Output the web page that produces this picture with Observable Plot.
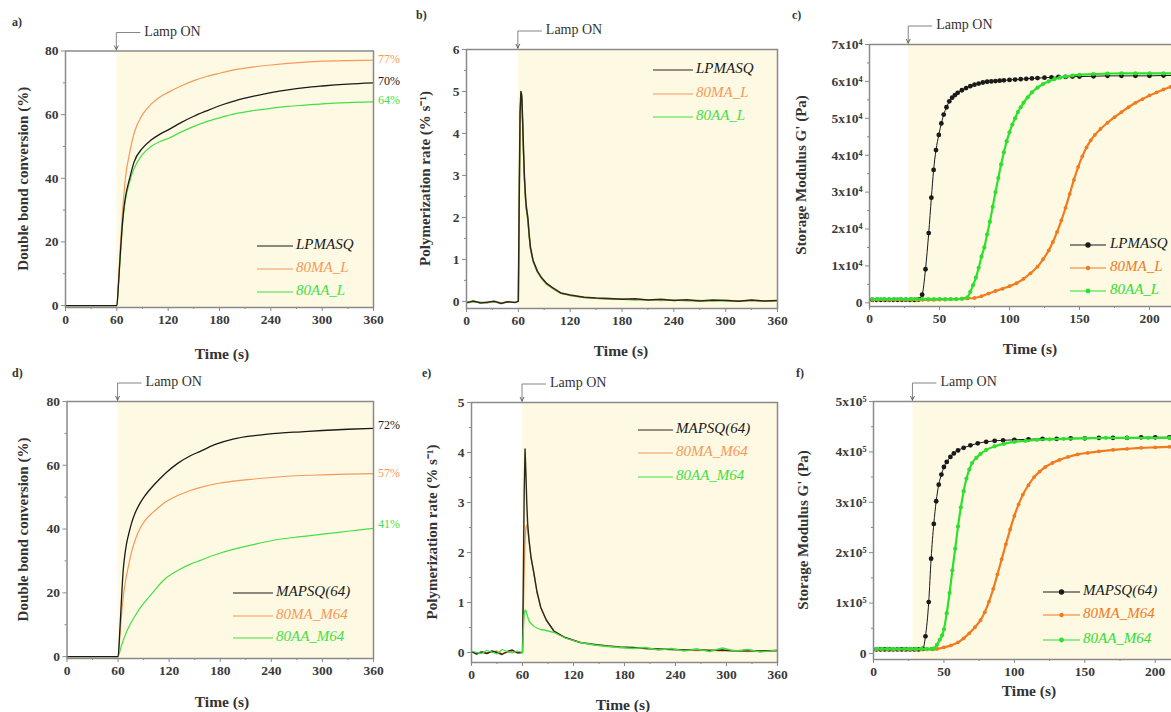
<!DOCTYPE html>
<html><head><meta charset="utf-8">
<script src="https://cdn.jsdelivr.net/npm/d3@7"></script>
<script src="https://cdn.jsdelivr.net/npm/@observablehq/plot@0.6"></script>
<style>
html,body{margin:0;padding:0;background:#fff;overflow:hidden;}
#fig{position:relative;width:1171px;height:712px;overflow:hidden;}
#fig > div{position:absolute;}
</style></head><body><div id="fig"></div>
<script>
// ---------------- DATA ----------------
// a) Double bond conversion (%) – LPMASQ series
const tA = [0, 30, 60, 62, 64, 66, 68, 70, 75, 80, 90, 100, 110, 120, 135, 150, 165, 180, 200, 220, 240, 260, 280, 300, 330, 360];
const a_LPMASQ = [0, 0, 0, 7, 16, 24, 30, 34, 40, 45, 49.5, 52, 53.8, 55.2, 57.5, 59.5, 61.2, 62.8, 64.5, 65.8, 66.9, 67.8, 68.5, 69, 69.6, 70];
const a_80MA_L = [0, 0, 0, 8, 18, 27, 34, 40, 48, 54, 60, 63.3, 65.5, 67, 69, 70.7, 72, 73, 74.2, 75, 75.6, 76.1, 76.5, 76.8, 77, 77.1];
const a_80AA_L = [0, 0, 0, 7, 15, 23, 29, 33, 39, 43, 47.5, 50, 51.5, 52.5, 54.5, 56.3, 57.8, 59, 60.4, 61.3, 62, 62.6, 63, 63.4, 63.8, 64];
const a_final = [77, 70, 64]; // 80MA_L, LPMASQ, 80AA_L

// b) Polymerization rate (% s-1)
const tB = [0, 8, 16, 24, 32, 40, 48, 56, 60, 61, 62, 63, 64, 65, 66, 67, 68, 69, 71, 72.5, 74, 77, 82, 87, 93, 100, 109, 120, 136, 150, 165, 180, 195, 210, 225, 240, 255, 270, 285, 300, 315, 330, 345, 360];
const b_LPMASQ = [-0.03, 0.01, -0.04, -0.02, 0.0, -0.05, -0.01, -0.03, 0, 2.4, 4.5, 5.0, 4.9, 4.3, 3.6, 3.0, 2.6, 2.3, 2.0, 1.6, 1.29, 0.98, 0.72, 0.56, 0.42, 0.32, 0.2, 0.15, 0.1, 0.08, 0.07, 0.05, 0.06, 0.03, 0.05, 0.02, 0.04, 0.01, 0.03, 0.02, 0.0, 0.03, 0.01, 0.02];
const b_80MA_L = [-0.02, 0.0, -0.03, -0.04, 0.01, -0.03, -0.02, -0.01, 0, 2.2, 4.4, 4.95, 4.85, 4.25, 3.55, 2.95, 2.55, 2.25, 1.95, 1.58, 1.27, 0.97, 0.71, 0.55, 0.41, 0.31, 0.2, 0.14, 0.1, 0.07, 0.06, 0.06, 0.04, 0.04, 0.03, 0.03, 0.02, 0.02, 0.01, 0.03, 0.01, 0.02, 0.0, 0.01];
const b_80AA_L = [-0.04, -0.01, -0.02, -0.03, -0.01, -0.04, 0.0, -0.02, 0, 2.3, 4.45, 4.9, 4.8, 4.2, 3.5, 2.9, 2.5, 2.2, 1.9, 1.55, 1.25, 0.95, 0.7, 0.54, 0.4, 0.3, 0.19, 0.14, 0.09, 0.07, 0.05, 0.05, 0.03, 0.04, 0.02, 0.03, 0.01, 0.02, 0.0, 0.02, 0.01, 0.01, 0.0, 0.01];

// c) Storage modulus G' (Pa) – LPMASQ series
const c_t_LPMASQ = [2, 5, 8, 11, 14, 17, 20, 23, 26, 29, 32, 35, 37.6, 40, 42.3, 44.2, 45.8, 47.5, 49.5, 51.3, 53, 55, 57, 59, 61, 63, 66, 69, 72, 75, 78, 81, 84, 87, 90, 93, 96, 100, 104, 108, 112, 116, 120, 125, 130, 135, 140, 145, 150, 160, 170, 180, 190, 200, 210, 220, 230];
const c_v_LPMASQ = [800, 800, 800, 800, 800, 800, 800, 800, 800, 800, 800, 900, 2200, 9100, 18900, 28500, 36000, 41400, 45500, 48600, 51000, 53000, 54600, 55600, 56300, 56900, 57600, 58200, 58700, 59100, 59400, 59700, 59900, 60000, 60100, 60200, 60300, 60400, 60500, 60600, 60700, 60800, 60900, 61000, 61100, 61200, 61200, 61300, 61300, 61400, 61500, 61500, 61500, 61500, 61600, 61600, 61600];
const c_t_80MA_L = [2, 6, 10, 14, 18, 22, 26, 30, 34, 38, 42, 46, 50, 54, 58, 62, 66, 70, 75, 80, 85, 90, 95, 100, 105, 110, 115, 120, 124, 128, 131, 134, 137, 140, 143, 146, 149, 152, 155, 158, 161, 165, 170, 175, 180, 185, 190, 195, 200, 205, 210, 215, 220, 225, 230];
const c_v_80MA_L = [800, 800, 800, 800, 800, 800, 800, 800, 800, 800, 800, 800, 900, 900, 1000, 1000, 1100, 1200, 1300, 1800, 2500, 3200, 3800, 4500, 5300, 6500, 8000, 9800, 11800, 14200, 16500, 19200, 22300, 25700, 29500, 33300, 36800, 39700, 42100, 44000, 45500, 47100, 48800, 50300, 51700, 53000, 54200, 55200, 56200, 57000, 57800, 58500, 59000, 59500, 60000];
const c_t_80AA_L = [2, 6, 10, 14, 18, 22, 26, 30, 34, 38, 42, 46, 50, 54, 58, 62, 66, 70, 72, 74, 76, 78, 80, 82, 84, 86, 88, 90, 92, 94, 96, 98, 100, 102, 104, 106, 108, 110, 113, 116, 120, 124, 128, 132, 136, 140, 145, 150, 160, 170, 180, 190, 200, 210, 220, 230];
const c_v_80AA_L = [1000, 1000, 1000, 1000, 1000, 1000, 1000, 1000, 1000, 1000, 1000, 1000, 1000, 1000, 1000, 1000, 1100, 1500, 3000, 4800, 6800, 9500, 12500, 15000, 18500, 22000, 26000, 30000, 33800, 37500, 40800, 43800, 46200, 48300, 50000, 51700, 53000, 54200, 55700, 57000, 58300, 59300, 60000, 60600, 61000, 61300, 61600, 61800, 62000, 62100, 62200, 62200, 62200, 62200, 62200, 62200];

// d) Double bond conversion (%) – MAPSQ(64) series
const tD = [0, 30, 60, 62, 64, 66, 68, 70, 73, 76, 80, 86, 92, 100, 110, 117, 130, 145, 156, 175, 195, 220, 250, 275, 300, 330, 360];
const d_MAPSQ = [0, 0, 0, 8, 18, 27, 32, 35.5, 39, 42, 45, 48.2, 50.6, 53.2, 56, 57.8, 60.6, 63, 64.3, 66.6, 68.2, 69.3, 70.1, 70.5, 70.9, 71.3, 71.6];
const d_80MA_M64 = [0, 0, 0, 6, 13, 18.5, 22.5, 25.5, 29.5, 33, 36.5, 40.3, 42.8, 45, 47.3, 48.7, 50.5, 52.1, 53, 54.2, 55, 55.7, 56.4, 56.8, 57, 57.2, 57.4];
const d_80AA_M64 = [0, 0, 0, 1.5, 3.5, 5, 6.5, 7.8, 9.5, 11, 12.8, 15.3, 17.3, 19.8, 23, 24.8, 27, 29, 30.1, 32, 33.6, 35.2, 36.8, 37.6, 38.4, 39.3, 40.2];
const d_final = [72, 57, 41]; // MAPSQ(64), 80MA_M64, 80AA_M64

// e) Polymerization rate (% s-1) – MAPSQ(64) series
const tE = [0, 6, 12, 18, 24, 30, 36, 42, 48, 54, 60, 61, 62, 63, 64, 65, 66, 67.7, 70, 73.6, 77, 81.5, 88, 97, 110, 128, 145, 160, 175, 190, 205, 220, 235, 250, 265, 280, 295, 310, 325, 340, 360];
const e_MAPSQ = [0.02, -0.03, 0.01, -0.02, 0.03, 0, -0.04, 0.02, 0.05, -0.01, 0, 1.5, 3.2, 4.07, 3.6, 3.0, 2.6, 2.24, 1.9, 1.57, 1.22, 0.9, 0.65, 0.43, 0.3, 0.2, 0.16, 0.13, 0.11, 0.1, 0.08, 0.07, 0.06, 0.05, 0.06, 0.04, 0.05, 0.03, 0.04, 0.03, 0.04];
const e_80MA_M64 = [0.01, -0.02, 0.02, -0.01, 0.01, 0.03, -0.02, 0.0, 0.02, 0.01, 0, 0.8, 1.6, 2.2, 2.5, 2.55, 2.45, 2.24, 1.92, 1.55, 1.2, 0.9, 0.64, 0.42, 0.3, 0.2, 0.15, 0.13, 0.1, 0.09, 0.08, 0.06, 0.07, 0.05, 0.04, 0.05, 0.03, 0.04, 0.02, 0.03, 0.03];
const e_80AA_M64 = [0.03, 0.0, -0.02, 0.04, 0.01, -0.03, 0.06, 0.02, -0.01, 0.03, 0, 0.45, 0.75, 0.85, 0.84, 0.78, 0.72, 0.63, 0.58, 0.52, 0.49, 0.46, 0.44, 0.4, 0.29, 0.2, 0.15, 0.12, 0.1, 0.08, 0.1, 0.05, 0.08, 0.03, 0.07, 0.02, 0.09, 0.03, 0.06, 0.01, 0.05];

// f) Storage modulus G' (Pa) – MAPSQ(64) series
const f_t_MAPSQ = [2, 5, 8, 11, 14, 17, 20, 23, 26, 29, 32, 35, 36.9, 39.2, 40.9, 42.8, 44.5, 46.3, 48.2, 50, 52, 54.6, 57, 60, 64, 68.8, 74, 80, 86, 92, 100, 110, 120, 130, 140, 150, 160, 170, 180, 190, 200, 210, 220, 230];
const f_v_MAPSQ = [8000, 8000, 8000, 8000, 8000, 8000, 8000, 8000, 8000, 8000, 8000, 9000, 34000, 102000, 188000, 257000, 302000, 335000, 355000, 370000, 380000, 390000, 397000, 403000, 408000, 413000, 417000, 420000, 422000, 423000, 424000, 425000, 426000, 426000, 427000, 427000, 428000, 428000, 428000, 429000, 429000, 429000, 429000, 429000];
const f_t_80MA_M64 = [2, 6, 10, 14, 18, 22, 26, 30, 34, 38, 42, 45, 50, 55, 60, 64, 68, 72, 76, 79, 82, 85, 88, 91, 94, 97, 100, 103, 106, 110, 114, 118, 122, 127, 132, 138, 145, 152, 160, 170, 180, 190, 200, 210, 220, 230];
const f_v_80MA_M64 = [8000, 8000, 8000, 8000, 8000, 8000, 8000, 8000, 8000, 8000, 8000, 9000, 12000, 16000, 22000, 30000, 40000, 52000, 66000, 82000, 103000, 128000, 157000, 187000, 217000, 246000, 273000, 296000, 315000, 334000, 350000, 361000, 370000, 378000, 384000, 390000, 395000, 398000, 401000, 404000, 406000, 408000, 409000, 410000, 411000, 412000];
const f_t_80AA_M64 = [2, 6, 10, 14, 18, 22, 26, 30, 34, 38, 41, 43, 45, 47, 48.7, 50, 52, 54, 56, 58, 60, 62, 64, 66, 68, 70, 73, 76, 80, 86, 92.5, 100, 108, 116, 125, 135, 150, 165, 180, 195, 210, 230];
const f_v_80AA_M64 = [9000, 9000, 9000, 9000, 9000, 9000, 9000, 9000, 9000, 9000, 9000, 10000, 17000, 27000, 36000, 48000, 80000, 120000, 165000, 208000, 252000, 290000, 322000, 347000, 365000, 378000, 388000, 396000, 404000, 411000, 416000, 420000, 422000, 424000, 425000, 426000, 427000, 428000, 428000, 428000, 428000, 428000];

// labels
const namesTop = ["LPMASQ", "80MA_L", "80AA_L"];
const namesBottom = ["MAPSQ(64)", "80MA_M64", "80AA_M64"];
const ticks360 = [0, 60, 120, 180, 240, 300, 360];
const minor360 = [30, 90, 150, 210, 270, 330];
const ticks250 = [0, 50, 100, 150, 200];
const minor250 = [25, 75, 125, 175, 225];

// ---------------- STYLE ----------------
const FONT = "'Liberation Serif','Times New Roman',serif";
const BG = "#fdf9e2";
const AX = "#8a8a8a";
const BLACK = "#1a1a1a";
const ORANGE_L = "#f5995a", ORANGE_D = "#f07b1f";
const GREEN_L = "#45e045", GREEN_D = "#2ee02e";

const fig = document.getElementById("fig");
const sup4 = "\u2074", sup5 = "\u2075";

function ser(t, v) { return t.map((x, i) => ({t: x, v: v[i]})); }

function buildPanel(p) {
  const mL = p.fl - p.ox, mR = p.ox + p.W - p.fr, mT = p.ft - p.oy, mB = p.oy + p.H - p.fb;
  const marks = [
    Plot.rect([{x1: p.lamp, x2: p.xDomain[1], y1: p.yDomain[0], y2: p.yDomain[1]}], {x1: "x1", x2: "x2", y1: "y1", y2: "y2", fill: BG})
  ];
  for (const s of p.series) {
    const data = ser(s.t, s.v);
    marks.push(Plot.line(data, {x: "t", y: "v", stroke: s.color, strokeWidth: s.sw, curve: p.curve, clip: true}));
    if (s.r) marks.push(Plot.dot(data, {x: "t", y: "v", r: s.r, fill: s.color, stroke: "none", clip: true}));
  }
  marks.push(
    Plot.axisX({ticks: p.xMinor, tickSize: 2, tickFormat: () => "", stroke: AX, label: null}),
    Plot.axisX({ticks: p.xTicks, tickSize: 4, tickPadding: 3, fontSize: 13.5, fontWeight: "bold", fill: "#3a3a3a", stroke: AX, label: null}),
    Plot.axisY({ticks: p.yMinor, tickSize: 2, tickFormat: () => "", stroke: AX, label: null}),
    Plot.axisY({ticks: p.yTicks, tickSize: 4, tickPadding: 3, tickFormat: p.yFmt, fontSize: 13.5, fontWeight: "bold", fill: "#3a3a3a", stroke: AX, label: null}),
    Plot.frame({stroke: AX, strokeWidth: 1.5})
  );
  const plot = Plot.plot({
    width: p.W, height: p.H,
    marginLeft: mL, marginRight: mR, marginTop: mT, marginBottom: mB,
    x: {domain: p.xDomain}, y: {domain: p.yDomain},
    style: {background: "transparent", maxWidth: "none", overflow: "visible", fontFamily: FONT},
    marks
  });
  const xs = plot.scale("x"), ys = plot.scale("y");
  const svg = d3.select(plot);
  const g = svg.append("g").attr("font-family", FONT).attr("text-anchor", "start");
  const X = v => v - p.ox, Y = v => v - p.oy;
  // panel letter
  g.append("text").attr("x", X(p.letter[0])).attr("y", Y(p.letter[1])).attr("font-size", 12).attr("font-weight", "bold").attr("fill", "#333").attr("dominant-baseline", "middle").text(p.letter[2]);
  // Lamp ON annotation
  const xl = xs.apply(p.lamp), top = mT;
  g.append("path").attr("d", `M${xl},${top} L${xl},${top - 18} L${xl + 24},${top - 18}`).attr("fill", "none").attr("stroke", "#777").attr("stroke-width", 0.9);
  g.append("path").attr("d", `M${xl - 2},${top - 5} L${xl},${top - 1} L${xl + 2},${top - 5}`).attr("fill", "none").attr("stroke", "#555").attr("stroke-width", 0.9);
  g.append("text").attr("x", xl + 28).attr("y", top - 18).attr("dominant-baseline", "middle").attr("font-size", 14).attr("fill", "#333").text("Lamp ON");
  // axis titles
  g.append("text").attr("transform", `translate(${X(p.yTitleX)},${(mT + p.H - mB) / 2}) rotate(-90)`).attr("text-anchor", "middle").attr("dominant-baseline", "middle").attr("font-size", 15).attr("font-weight", "bold").attr("fill", "#333").text(p.yTitle);
  g.append("text").attr("x", X(p.xTitle[0])).attr("y", Y(p.xTitle[1])).attr("text-anchor", "middle").attr("dominant-baseline", "middle").attr("font-size", 15.5).attr("font-weight", "bold").attr("fill", "#333").text("Time (s)");
  // legend
  p.legend.rows.forEach((ry, i) => {
    const s = p.series[p.legend.order[i]];
    const lc = p.legend.labelColors[i];
    g.append("line").attr("x1", X(p.legend.x1)).attr("x2", X(p.legend.x2)).attr("y1", Y(ry)).attr("y2", Y(ry)).attr("stroke", s.color).attr("stroke-width", 1.2);
    if (s.r) g.append("circle").attr("cx", X((p.legend.x1 + p.legend.x2) / 2)).attr("cy", Y(ry)).attr("r", s.r + 0.3).attr("fill", s.color);
    g.append("text").attr("x", X(p.legend.tx)).attr("y", Y(ry)).attr("dominant-baseline", "middle").attr("font-size", 15).attr("font-style", "italic").attr("fill", lc).text(p.legend.names[i]);
  });
  // end labels
  if (p.ends) {
    p.ends.vals.forEach((v, i) => {
      g.append("text").attr("x", xs.apply(p.xDomain[1]) + 5).attr("y", ys.apply(v)).attr("dominant-baseline", "middle").attr("font-size", 12).attr("fill", p.ends.colors[i]).text(`${v}%`);
    });
  }
  const div = document.createElement("div");
  div.style.left = p.ox + "px"; div.style.top = p.oy + "px";
  div.appendChild(plot);
  fig.appendChild(div);
}

const fmtInt = d => String(d);
const fmtC = d => d === 0 ? "0" : `${d / 1e4}x10${sup4}`;
const fmtF = d => d === 0 ? "0" : `${d / 1e5}x10${sup5}`;

// a
buildPanel({
  ox: 0, oy: 0, W: 400, H: 365, fl: 65, fr: 373, ft: 50.5, fb: 307,
  xDomain: [0, 360], yDomain: [-0.6, 80], lamp: 60, curve: "monotone-x",
  xTicks: ticks360, xMinor: minor360, yTicks: [0, 20, 40, 60, 80], yMinor: [10, 30, 50, 70], yFmt: fmtInt,
  series: [
    {t: tA, v: a_80AA_L, color: GREEN_L, sw: 1.2},
    {t: tA, v: a_80MA_L, color: ORANGE_L, sw: 1.2},
    {t: tA, v: a_LPMASQ, color: BLACK, sw: 1.3}
  ],
  letter: [12, 23, "a)"], yTitleX: 25, yTitle: "Double bond conversion (%)", xTitle: [222, 355],
  legend: {rows: [246, 269, 292], x1: 257, x2: 293, tx: 296, order: [2, 1, 0], names: namesTop, labelColors: [BLACK, ORANGE_L, GREEN_L]},
  ends: {vals: a_final, colors: [ORANGE_L, BLACK, GREEN_L]}
});
// b
buildPanel({
  ox: 400, oy: 0, W: 385, H: 365, fl: 466, fr: 777, ft: 49, fb: 308,
  xDomain: [0, 360], yDomain: [-0.17, 6], lamp: 60, curve: "linear",
  xTicks: ticks360, xMinor: minor360, yTicks: [0, 1, 2, 3, 4, 5, 6], yMinor: [0.5, 1.5, 2.5, 3.5, 4.5, 5.5], yFmt: fmtInt,
  series: [
    {t: tB, v: b_80AA_L, color: GREEN_L, sw: 1.3},
    {t: tB, v: b_80MA_L, color: ORANGE_L, sw: 1.3},
    {t: tB, v: b_LPMASQ, color: "#2a2a1a", sw: 1.5}
  ],
  letter: [416, 16, "b)"], yTitleX: 427, yTitle: "Polymerization rate (% s\u207B\u00B9)", xTitle: [621, 352],
  legend: {rows: [70, 94, 117], x1: 653, x2: 693, tx: 696, order: [2, 1, 0], names: namesTop, labelColors: [BLACK, ORANGE_L, GREEN_L]}
});
// c
buildPanel({
  ox: 785, oy: 0, W: 420, H: 365, fl: 869, fr: 1191, ft: 44, fb: 306,
  xDomain: [0, 230], yDomain: [-1000, 70000], lamp: 28, curve: "monotone-x",
  xTicks: ticks250, xMinor: minor250, yTicks: [0, 10000, 20000, 30000, 40000, 50000, 60000, 70000], yMinor: [5000, 15000, 25000, 35000, 45000, 55000, 65000], yFmt: fmtC,
  series: [
    {t: c_t_LPMASQ, v: c_v_LPMASQ, color: BLACK, sw: 1, r: 2.4},
    {t: c_t_80MA_L, v: c_v_80MA_L, color: ORANGE_D, sw: 2.2, r: 1.9},
    {t: c_t_80AA_L, v: c_v_80AA_L, color: GREEN_D, sw: 2.2, r: 2.1}
  ],
  letter: [792, 16, "c)"], yTitleX: 803, yTitle: "Storage Modulus G' (Pa)", xTitle: [1030, 350],
  legend: {rows: [245, 268, 291], x1: 1070, x2: 1106, tx: 1110, order: [0, 1, 2], names: namesTop, labelColors: [BLACK, ORANGE_D, GREEN_D]}
});
// d
buildPanel({
  ox: 0, oy: 360, W: 400, H: 352, fl: 66.5, fr: 373, ft: 401, fb: 658,
  xDomain: [0, 360], yDomain: [-0.6, 80], lamp: 60, curve: "monotone-x",
  xTicks: ticks360, xMinor: minor360, yTicks: [0, 20, 40, 60, 80], yMinor: [10, 30, 50, 70], yFmt: fmtInt,
  series: [
    {t: tD, v: d_80AA_M64, color: GREEN_L, sw: 1.2},
    {t: tD, v: d_80MA_M64, color: ORANGE_L, sw: 1.2},
    {t: tD, v: d_MAPSQ, color: BLACK, sw: 1.3}
  ],
  letter: [12, 374, "d)"], yTitleX: 25, yTitle: "Double bond conversion (%)", xTitle: [222, 703],
  legend: {rows: [593, 616, 638], x1: 233, x2: 273, tx: 276, order: [2, 1, 0], names: namesBottom, labelColors: [BLACK, ORANGE_L, GREEN_L]},
  ends: {vals: d_final, colors: [BLACK, ORANGE_L, GREEN_L]}
});
// e
buildPanel({
  ox: 400, oy: 360, W: 385, H: 352, fl: 471, fr: 777, ft: 402, fb: 662,
  xDomain: [0, 360], yDomain: [-0.2, 5], lamp: 60, curve: "linear",
  xTicks: ticks360, xMinor: minor360, yTicks: [0, 1, 2, 3, 4, 5], yMinor: [0.5, 1.5, 2.5, 3.5, 4.5], yFmt: fmtInt,
  series: [
    {t: tE, v: e_80MA_M64, color: ORANGE_L, sw: 1.3},
    {t: tE, v: e_MAPSQ, color: "#2a2a1a", sw: 1.4},
    {t: tE, v: e_80AA_M64, color: GREEN_L, sw: 1.3}
  ],
  letter: [422, 374, "e)"], yTitleX: 434, yTitle: "Polymerization rate (% s\u207B\u00B9)", xTitle: [623, 706],
  legend: {rows: [430, 453, 477], x1: 638, x2: 673, tx: 676, order: [1, 0, 2], names: namesBottom, labelColors: [BLACK, ORANGE_L, GREEN_L]}
});
// f
buildPanel({
  ox: 785, oy: 360, W: 420, H: 352, fl: 873, fr: 1197, ft: 401, fb: 659,
  xDomain: [0, 230], yDomain: [-12000, 500000], lamp: 28, curve: "monotone-x",
  xTicks: ticks250, xMinor: minor250, yTicks: [0, 100000, 200000, 300000, 400000, 500000], yMinor: [50000, 150000, 250000, 350000, 450000], yFmt: fmtF,
  series: [
    {t: f_t_MAPSQ, v: f_v_MAPSQ, color: BLACK, sw: 1, r: 2.4},
    {t: f_t_80MA_M64, v: f_v_80MA_M64, color: ORANGE_D, sw: 2.2, r: 1.9},
    {t: f_t_80AA_M64, v: f_v_80AA_M64, color: GREEN_D, sw: 2.2, r: 2.1}
  ],
  letter: [796, 374, "f)"], yTitleX: 805, yTitle: "Storage Modulus G' (Pa)", xTitle: [1029, 692],
  legend: {rows: [592, 615, 640], x1: 1043, x2: 1080, tx: 1083, order: [0, 1, 2], names: namesBottom, labelColors: [BLACK, ORANGE_D, GREEN_D]}
});
</script>
</body></html>
